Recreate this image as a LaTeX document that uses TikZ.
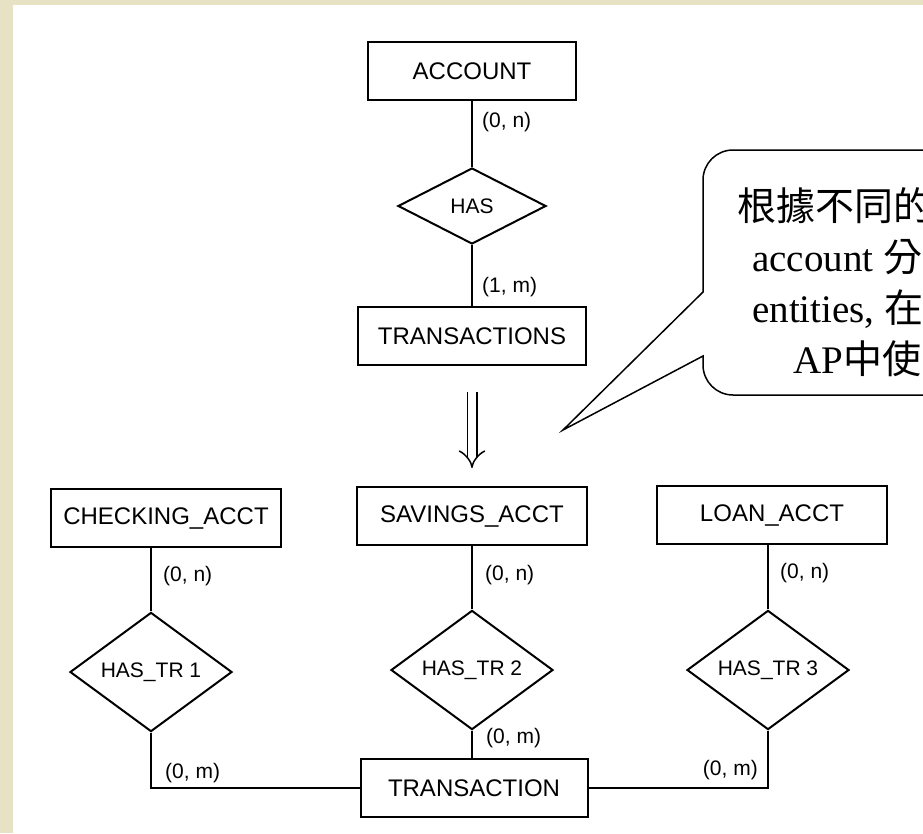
\documentclass[tikz,border=0pt]{standalone}
\usepackage{fontspec}
\setmainfont{Liberation Serif}
\setsansfont{Liberation Sans}
\newfontfamily\cjkfont{Noto Sans CJK TC}
\usetikzlibrary{shapes.geometric,arrows.meta}
\definecolor{paper}{RGB}{232,226,196}

\begin{document}
\begin{tikzpicture}[x=1pt,y=-1pt,
    entity/.style={draw, line width=2pt, minimum width=230pt, minimum height=58pt, inner sep=0pt, font=\sffamily\fontsize{24}{24}\selectfont},
    rel/.style={draw, line width=2pt, diamond, minimum width=162pt, minimum height=86pt, inner sep=0pt, font=\sffamily\fontsize{21}{21}\selectfont},
    card/.style={inner sep=0pt, font=\sffamily\fontsize{21}{21}\selectfont},
    link/.style={line width=2pt},
    note/.style={anchor=base west, inner sep=0pt, font=\fontsize{39}{39}\selectfont}]
    \useasboundingbox (0,0) rectangle (923,833);
    \clip (0,0) rectangle (923,833);
    \fill[paper] (0,0) rectangle (923,833);
    \fill[white] (13,5) rectangle (923,833);

    % upper part
    \node[entity, minimum width=208pt] (account) at (472,71) {ACCOUNT};
    \node[rel, minimum width=148pt, minimum height=76pt] (has) at (472,206) {HAS};
    \node[entity, minimum width=228pt] (transactions) at (472,336) {TRANSACTIONS};
    \node[card, anchor=west] (acctcard) at (482,122) {(0, n)};
    \node[card, anchor=west] (transcard) at (482,287) {(1, m)};
    \draw[link] (account) -- (has);
    \draw[link] (has) -- (transactions);

    \coordinate (arrtop) at (472,392);
    \coordinate (arrbot) at (472,468);
    \draw[double, double distance=8pt, line width=1.5pt, -{Implies}] (arrtop) -- (arrbot);

    % lower part
    \node[entity] (checking) at (166,518) {CHECKING\_ACCT};
    \node[entity] (savings) at (472,516) {SAVINGS\_ACCT};
    \node[entity] (loan) at (772,515) {LOAN\_ACCT};
    \node[rel] (hastr1) at (151,672) {HAS\_TR 1};
    \node[rel] (hastr2) at (472,670) {HAS\_TR 2};
    \node[rel] (hastr3) at (768,670) {HAS\_TR 3};
    \node[entity, minimum width=227pt] (transaction) at (474,788) {TRANSACTION};

    \node[card, anchor=west] (chkcard) at (163,576) {(0, n)};
    \node[card, anchor=west] (savcard) at (485,575) {(0, n)};
    \node[card, anchor=west] (loancard) at (780,573) {(0, n)};
    \node[card, anchor=west] (tr1card) at (165,773) {(0, m)};
    \node[card, anchor=west] (tr2card) at (486,738) {(0, m)};
    \node[card, anchor=east] (tr3card) at (758,770) {(0, m)};

    \draw[link] (hastr1.north) -- (hastr1.north |- checking.south);
    \draw[link] (savings) -- (hastr2);
    \draw[link] (hastr3.north) -- (hastr3.north |- loan.south);
    \draw[link] (hastr2.south) -- (hastr2.south |- transaction.north);
    \draw[link] (hastr1.south) |- (transaction.west);
    \draw[link] (hastr3.south) |- (transaction.east);

    % callout
    \draw[line width=1.5pt, fill=white] (703,356) [rounded corners=30pt] -- (703,395) -- (960,395) -- (960,150) -- (703,150) -- (703,260) [sharp corners] -- (703,292) -- (563,430) -- cycle;
    \node[note] (note1) at (737,220) {\cjkfont 根據不同的};
    \node[note] (note2) at (752,271) {account \cjkfont 分};
    \node[note] (note3) at (752,322) {entities, \cjkfont 在};
    \node[note] (note4) at (793,373) {AP\cjkfont 中使};
\end{tikzpicture}
\end{document}
